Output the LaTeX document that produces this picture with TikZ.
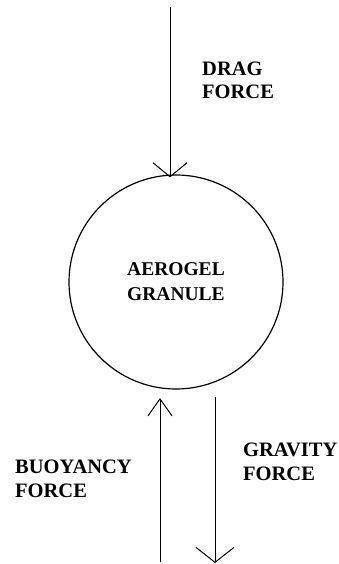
\documentclass[tikz,border=0pt]{standalone}
\usepackage{fontspec}
\setmainfont{Liberation Serif}
\usetikzlibrary{arrows.meta}
\begin{document}
\begin{tikzpicture}[x=1pt,y=-1pt,
  lbl/.style={font=\bfseries\fontsize{20.5}{23.5}\selectfont, align=left, inner sep=0pt, anchor=base west},
  force/.style={line width=1pt, -{Straight Barb[length=14pt,width=34pt,line width=1pt]}},
  granule/.style={circle, draw, line width=1.2pt, minimum size=214pt, inner sep=0pt,
    font=\bfseries\fontsize{19.5}{25}\selectfont, align=center}]
\useasboundingbox (0,0) rectangle (339,564);
\node[granule] (g) at (176,282) {AEROGEL\\GRANULE};
\coordinate (dtop) at (170,7);
\coordinate (bbot) at (160,562);
\coordinate (btip) at (160,398);
\coordinate (gtop) at (215,397);
\coordinate (gbot) at (215,563);
\draw[force] (dtop) -- ([yshift=-3pt]g.north -| dtop);
\draw[force, -{Straight Barb[length=17pt,width=24pt,line width=1pt]}] (bbot) -- (btip);
\draw[force, -{Straight Barb[length=15pt,width=38pt,line width=1pt]}] (gtop) -- (gbot);
\node[lbl] (drag) at (202,99) {DRAG\\FORCE};
\node[lbl] (buoy) at (15,497) {BUOYANCY\\FORCE};
\node[lbl] (grav) at (243,480) {GRAVITY\\FORCE};
\end{tikzpicture}
\end{document}
